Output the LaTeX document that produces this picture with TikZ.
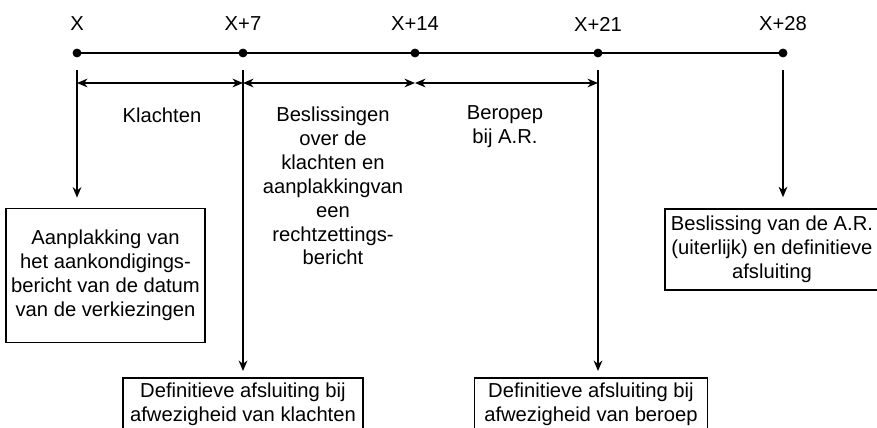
\documentclass[tikz,border=0pt]{standalone}
\usepackage{fontspec}
\setmainfont{Liberation Sans}
\usetikzlibrary{arrows.meta}

\tikzset{
  box/.style={draw, line width=1pt, align=center, inner sep=3pt},
  pijl/.style={line width=0.85pt, -{Stealth[length=6pt,width=5pt]}},
  duur/.style={line width=0.85pt, {Stealth[length=6pt,width=5pt]}-{Stealth[length=6pt,width=5pt]}},
}

\begin{document}
\begin{tikzpicture}[x=0.02cm, y=-0.02cm, font=\fontsize{11.5}{13.6}\selectfont]
    \useasboundingbox (0,0) rectangle (877,428);

    % tijdlijn met de dagen
    \coordinate (d0) at (77,53);
    \coordinate (d7) at (243,53);
    \coordinate (d14) at (415,53);
    \coordinate (d21) at (598,53);
    \coordinate (d28) at (783,53);
    \draw[line width=1.1pt] (d0) -- (d28);
    \draw[fill] (d0) circle [radius=2.3pt];
    \draw[fill] (d7) circle [radius=2.3pt];
    \draw[fill] (d14) circle [radius=2.3pt];
    \draw[fill] (d21) circle [radius=2.3pt];
    \draw[fill] (d28) circle [radius=2.3pt];

    \node (l0) at (77,24) {X};
    \node (l7) at (243,24) {X+7};
    \node (l14) at (415,24) {X+14};
    \node (l21) at (598,24) {X+21};
    \node (l28) at (783,24) {X+28};

    % termijnen
    \coordinate (a0) at (77,83);
    \coordinate (a7) at (243,83);
    \coordinate (a14) at (415,83);
    \coordinate (a21) at (598,83);
    \draw[duur] (a0) -- (a7);
    \draw[duur] (a7) -- (a14);
    \draw[duur] (a14) -- (a21);

    \node (klachten) at (162,115) {Klachten};
    \node [align=center] (beslissingen) at (333,186) {Beslissingen\\over de\\klachten en\\aanplakkingvan\\een\\rechtzettings-\\bericht};
    \node [align=center] (beroep) at (505,127) {Beropep\\bij A.R.};

    % kaders
    \node [box, minimum width=3.92cm, minimum height=2.68cm] (aanplakking) at (105.5,275.5)
        {Aanplakking van\\het aankondigings-\\bericht van de datum\\van de verkiezingen};
    \node [box, anchor=north, minimum width=4.8cm] (afsluiting1) at (243,377)
        {Definitieve afsluiting bij\\afwezigheid van klachten};
    \node [box, anchor=north, minimum width=4.66cm] (afsluiting2) at (591,377)
        {Definitieve afsluiting bij\\afwezigheid van beroep};
    \node [box, minimum width=4.28cm, minimum height=1.62cm] (beslissing) at (772,249.5)
        {Beslissing van de A.R.\\(uiterlijk) en definitieve\\afsluiting};

    % pijlen naar de kaders
    \coordinate (v0) at (77,70);
    \coordinate (v7) at (243,70);
    \coordinate (v21) at (598,70);
    \coordinate (v28) at (783,70);
    \draw[pijl, shorten >=5.7pt] (v0) -- (v0 |- aanplakking.north);
    \draw[pijl, shorten >=3.4pt] (v7) -- (v7 |- afsluiting1.north);
    \draw[pijl, shorten >=3.4pt] (v21) -- (v21 |- afsluiting2.north);
    \draw[pijl, shorten >=6.2pt] (v28) -- (v28 |- beslissing.north);

\end{tikzpicture}
\end{document}
